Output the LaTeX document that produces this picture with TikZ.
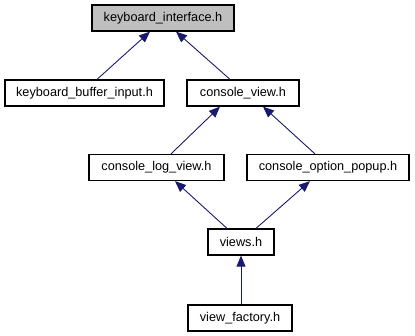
\documentclass[tikz,border=0pt]{standalone}
\usepackage{fontspec}
\setmainfont{Liberation Sans}
\usetikzlibrary{arrows.meta}
\definecolor{edgeblue}{HTML}{191970}
\definecolor{rootgray}{HTML}{BFBFBF}
\begin{document}
\begin{tikzpicture}[x=1pt,y=-1pt,
  file/.style={draw=black,line width=1.2pt,fill=white,minimum height=26pt,inner sep=0pt,
    font=\fontsize{12.7}{15}\selectfont},
  root/.style={file,fill=rootgray},
  dep/.style={draw=edgeblue,line width=0.9pt,-{Triangle[length=11pt,width=9pt,fill=edgeblue]}}]
\useasboundingbox (0,0) rectangle (415,336);
% include graph nodes
\node[root,minimum width=142pt] (ki)    at (163,18)    {keyboard\_interface.h};
\node[file,minimum width=159pt] (kbi)   at (84.5,93)   {keyboard\_buffer\_input.h};
\node[file,minimum width=112pt] (cv)    at (243,93)    {console\_view.h};
\node[file,minimum width=135pt] (clv)   at (156.5,167.5) {console\_log\_view.h};
\node[file,minimum width=162pt] (cop)   at (328,167.5) {console\_option\_popup.h};
\node[file,minimum width=66pt]  (views) at (241,242)   {views.h};
\node[file,minimum width=104pt] (vf)    at (240,318)   {view\_factory.h};
% dependency arrows, pointing at the included header
\draw[dep] ([xshift=12.5pt]kbi.north) -- ([xshift=-13pt]ki.south);
\draw[dep] ([xshift=-13pt]cv.north)   -- ([xshift=13pt]ki.south);
\draw[dep] ([xshift=14.5pt]clv.north) -- ([xshift=-23pt]cv.south);
\draw[dep] ([xshift=-13pt]cop.north)  -- ([xshift=20pt]cv.south);
\draw[dep] ([xshift=-14pt]views.north) -- ([xshift=18.5pt]clv.south);
\draw[dep] ([xshift=15pt]views.north) -- ([xshift=-18pt]cop.south);
\draw[dep] ([xshift=1pt]vf.north)     -- (views.south);
\end{tikzpicture}
\end{document}
